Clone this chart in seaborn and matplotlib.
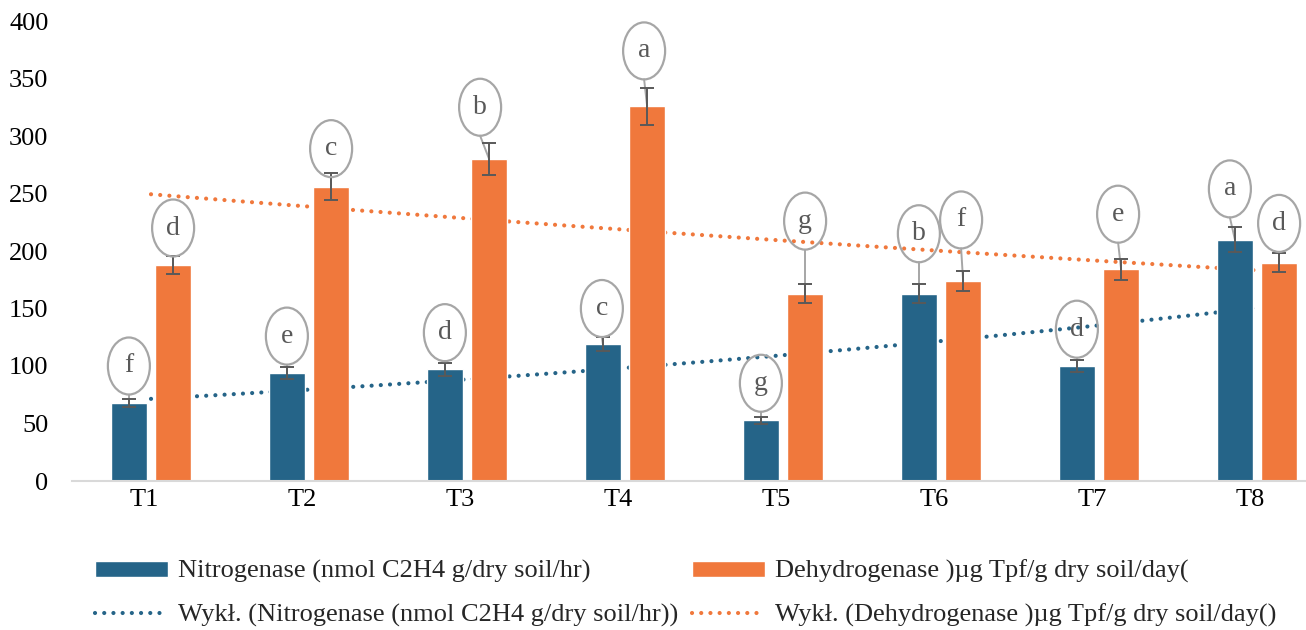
import matplotlib

matplotlib.use("Agg")
import matplotlib.pyplot as plt
import numpy as np
import pandas as pd
import seaborn as sns
from matplotlib.lines import Line2D
from matplotlib.patches import Ellipse, Patch
from matplotlib.transforms import ScaledTranslation

BLUE = "#256488"
ORANGE = "#F0783C"
ERR_GREY = "#595959"
BUBBLE_GREY = "#A6A6A6"
AXIS_GREY = "#D9D9D9"
DOTS = (0, (0.01, 2.2))

treatments = ["T1", "T2", "T3", "T4", "T5", "T6", "T7", "T8"]
nitrogenase = [68, 94, 97, 119, 53, 163, 100, 210]
nitrogenase_err = [3.5, 5, 5.5, 6, 3, 8, 5, 11]
dehydrogenase = [188, 256, 280, 326, 163, 174, 184, 190]
dehydrogenase_err = [8, 12, 14, 16, 8, 9, 9, 8]
nitrogenase_letters = ["f", "e", "d", "c", "g", "b", "d", "a"]
dehydrogenase_letters = ["d", "c", "b", "a", "g", "f", "e", "d"]

NITRO_LABEL = "Nitrogenase (nmol C2H4 g/dry soil/hr)"
DEHYDRO_LABEL = "Dehydrogenase )µg Tpf/g dry soil/day("

# where the letter bubbles sit (value-axis centre) and a small sideways nudge in px
nitro_bubble_y = [100, 126, 129, 150, 85, 215, 132, 254]
dehydro_bubble_y = [220, 289, 325, 374, 226, 227, 232, 224]
nitro_bubble_dx = [0, 0, 0, -1, 0, 0, 0, -5]
dehydro_bubble_dx = [0, 0, -9, -3, 0, -2, -3, 0]

PX_PER_CAT = 158.0
PX_PER_UNIT = 1.15
BUBBLE_W = 42 / PX_PER_CAT
BUBBLE_H = 57 / PX_PER_UNIT

sns.set_theme(style="white")
plt.rcParams["font.family"] = ["Liberation Serif", "DejaVu Serif"]

df = pd.DataFrame(
    {
        "treatment": treatments * 2,
        "value": nitrogenase + dehydrogenase,
        "series": [NITRO_LABEL] * 8 + [DEHYDRO_LABEL] * 8,
    }
)

fig = plt.figure(figsize=(13.06, 6.30), dpi=100)
ax = fig.add_axes([72 / 1306, 149 / 630, 1264 / 1306, 460 / 630])

sns.barplot(
    data=df, x="treatment", y="value", hue="series", palette=[BLUE, ORANGE],
    saturation=1, width=0.56, gap=0.2, legend=False, ax=ax, zorder=2,
)

# exponential trendlines (Excel "Wykł."), fitted on the bar values
xcat = np.arange(len(treatments))
xs = np.linspace(0, len(treatments) - 1, 300)
for vals, color in [(nitrogenase, BLUE), (dehydrogenase, ORANGE)]:
    coef = np.polyfit(xcat, np.log(vals), 1)
    ax.plot(xs, np.exp(np.polyval(coef, xs)), color=color, lw=3.0,
            linestyle=DOTS, dash_capstyle="round", zorder=1)

series = [
    (nitrogenase, nitrogenase_err, nitrogenase_letters, nitro_bubble_y, nitro_bubble_dx),
    (dehydrogenase, dehydrogenase_err, dehydrogenase_letters, dehydro_bubble_y, dehydro_bubble_dx),
]
for container, (vals, errs, letters, by, bdx) in zip(ax.containers, series):
    centres = [p.get_x() + p.get_width() / 2 for p in container.patches]
    for cx, v, e, letter, y, dx in zip(centres, vals, errs, letters, by, bdx):
        bx = cx + dx / PX_PER_CAT
        ax.plot([bx, cx], [y - BUBBLE_H / 2, v], color=BUBBLE_GREY, lw=1.4, zorder=3)
        ax.add_patch(Ellipse((bx, y), BUBBLE_W, BUBBLE_H, fill=False,
                             edgecolor=BUBBLE_GREY, lw=1.6, zorder=5))
        ax.text(bx, y, letter, ha="center", va="center", fontsize=20,
                color=ERR_GREY, zorder=6)
    ax.errorbar(centres, vals, yerr=errs, fmt="none", ecolor=ERR_GREY,
                elinewidth=1.4, capsize=4.7, capthick=1.4, zorder=4)

ax.set_xlim(-0.5, len(treatments) - 0.5)
ax.set_ylim(0, 400)
ax.set_yticks(range(0, 401, 50))
ax.set(xlabel="", ylabel="")
ax.tick_params(axis="both", length=0, labelsize=19, colors="black")
ax.tick_params(axis="y", pad=17)
ax.tick_params(axis="x", pad=6)
for lab in ax.get_xticklabels():
    lab.set_transform(lab.get_transform() + ScaledTranslation(-7 / 100, 0, fig.dpi_scale_trans))
for side in ["left", "top", "right"]:
    ax.spines[side].set_visible(False)
ax.spines["bottom"].set_color(AXIS_GREY)
ax.spines["bottom"].set_linewidth(1.5)

handles = [
    Patch(facecolor=BLUE, label=NITRO_LABEL),
    Line2D([0], [0], color=BLUE, lw=3.0, linestyle=DOTS, dash_capstyle="round",
           label="Wykł. (" + NITRO_LABEL + ")"),
    Patch(facecolor=ORANGE, label=DEHYDRO_LABEL),
    Line2D([0], [0], color=ORANGE, lw=3.0, linestyle=DOTS, dash_capstyle="round",
           label="Wykł. (" + DEHYDRO_LABEL + ")"),
]
fig.legend(
    handles=handles, ncol=2, loc="upper left", bbox_to_anchor=(95 / 1306, 70 / 630),
    frameon=False, fontsize=19, handlelength=2.75, handleheight=0.55, handletextpad=0.38,
    columnspacing=0.55, labelspacing=0.78, borderpad=0, borderaxespad=0,
)

fig.savefig("out.png", dpi=100)
